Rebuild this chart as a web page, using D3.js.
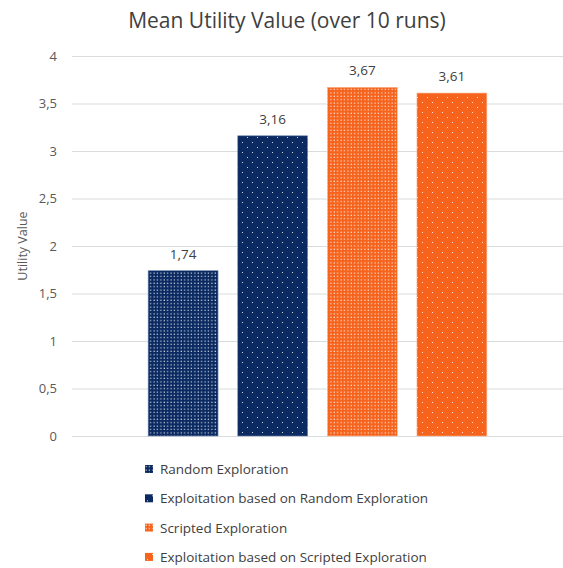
<!DOCTYPE html>
<html>
<head>
<meta charset="utf-8">
<script src="https://cdn.jsdelivr.net/npm/d3@7"></script>
<style>
  body { margin: 0; background: #fff; }
  svg text { font-family: "Open Sans", Lato, sans-serif; }
</style>
</head>
<body>
<div class="chart"></div>
<script>
// Mean utility value per strategy, one bar per series

var series = [
  'Random Exploration',
  'Exploitation based on Random Exploration',
  'Scripted Exploration',
  'Exploitation based on Scripted Exploration'
];
var values = [1.74, 3.16, 3.67, 3.61];
var yTicks = [0, 0.5, 1, 1.5, 2, 2.5, 3, 3.5, 4];

var width = 563, height = 568;
var plot = { left: 72, right: 563, top: 56, bottom: 436 };

var navy = '#0b2a62';
var orange = '#f6631c';

var svg = d3.select('.chart').append('svg')
  .attr('width', width)
  .attr('height', height);

// dotted fills - dense for exploration, sparse for exploitation
var defs = svg.append('defs');
function pattern(id, color, size, dots, r) {
  var p = defs.append('pattern')
    .attr('id', id)
    .attr('patternUnits', 'userSpaceOnUse')
    .attr('width', size)
    .attr('height', size);
  p.append('rect').attr('width', size).attr('height', size).attr('fill', color);
  dots.forEach(function(d) {
    p.append('rect')
      .attr('x', d[0]).attr('y', d[1])
      .attr('width', r).attr('height', r)
      .attr('fill', '#fff')
      .attr('opacity', 0.8);
  });
}
pattern('dense-navy', navy, 3.4, [[0.5, 0.5]], 1.2);
pattern('sparse-navy', navy, 10, [[2, 2], [7, 7]], 1);
pattern('dense-orange', orange, 3.4, [[0.5, 0.5]], 1.2);
pattern('sparse-orange', orange, 10, [[2, 2], [7, 7]], 1);
var fills = ['url(#dense-navy)', 'url(#sparse-navy)', 'url(#dense-orange)', 'url(#sparse-orange)'];

var x = d3.scaleBand()
  .domain(series)
  .range([plot.left, plot.right])
  .paddingInner(0.22)
  .paddingOuter(0.85);

var y = d3.scaleLinear()
  .domain([0, 4])
  .range([plot.bottom, plot.top]);

// title
svg.append('text')
  .attr('x', 287)
  .attr('y', 28)
  .attr('text-anchor', 'middle')
  .attr('font-size', 21)
  .attr('fill', '#404040')
  .text('Mean Utility Value (over 10 runs)');

// gridlines + tick labels
var yAxis = d3.axisLeft(y)
  .tickValues(yTicks)
  .tickSize(-(plot.right - plot.left))
  .tickPadding(15)
  .tickFormat(function(d) { return String(d).replace('.', ','); });

var gy = svg.append('g')
  .attr('transform', 'translate(' + plot.left + ',0)')
  .call(yAxis);
gy.select('.domain').remove();
gy.selectAll('.tick line').attr('stroke', '#d9dcdc').attr('stroke-width', 1);
gy.selectAll('.tick text')
  .attr('fill', '#595959')
  .attr('font-size', 13)
  .attr('font-family', '"Open Sans", sans-serif');

// y axis title
svg.append('text')
  .attr('transform', 'translate(27,' + ((plot.top + plot.bottom) / 2) + ') rotate(-90)')
  .attr('text-anchor', 'middle')
  .attr('font-size', 12.5)
  .attr('fill', '#595959')
  .text('Utility Value');

// bars
svg.selectAll('rect.bar')
  .data(values)
  .enter()
  .append('rect')
    .attr('class', 'bar')
    .attr('x', function(d, i) { return x(series[i]); })
    .attr('y', function(d) { return y(d); })
    .attr('width', x.bandwidth())
    .attr('height', function(d) { return y(0) - y(d); })
    .attr('fill', function(d, i) { return fills[i]; })
    .attr('stroke', function(d, i) { return i < 2 ? '#6f86ad' : '#fbb28c'; })
    .attr('stroke-width', 0.6);

// value labels
svg.selectAll('text.val')
  .data(values)
  .enter()
  .append('text')
    .attr('class', 'val')
    .attr('x', function(d, i) { return x(series[i]) + x.bandwidth() / 2; })
    .attr('y', function(d) { return y(d) - 12; })
    .attr('text-anchor', 'middle')
    .attr('font-size', 13.5)
    .attr('fill', '#404040')
    .text(function(d) { return d.toFixed(2).replace('.', ','); });

// legend
var legend = svg.selectAll('g.legend')
  .data(series)
  .enter()
  .append('g')
    .attr('class', 'legend')
    .attr('transform', function(d, i) { return 'translate(145,' + (469 + i * 29.3) + ')'; });

legend.append('rect')
  .attr('x', 0)
  .attr('y', -4)
  .attr('width', 8)
  .attr('height', 8)
  .attr('fill', function(d, i) { return fills[i]; });

legend.append('text')
  .attr('x', 15)
  .attr('y', 5)
  .attr('font-size', 13.5)
  .attr('fill', '#404040')
  .text(function(d) { return d; });
</script>
</body>
</html>
